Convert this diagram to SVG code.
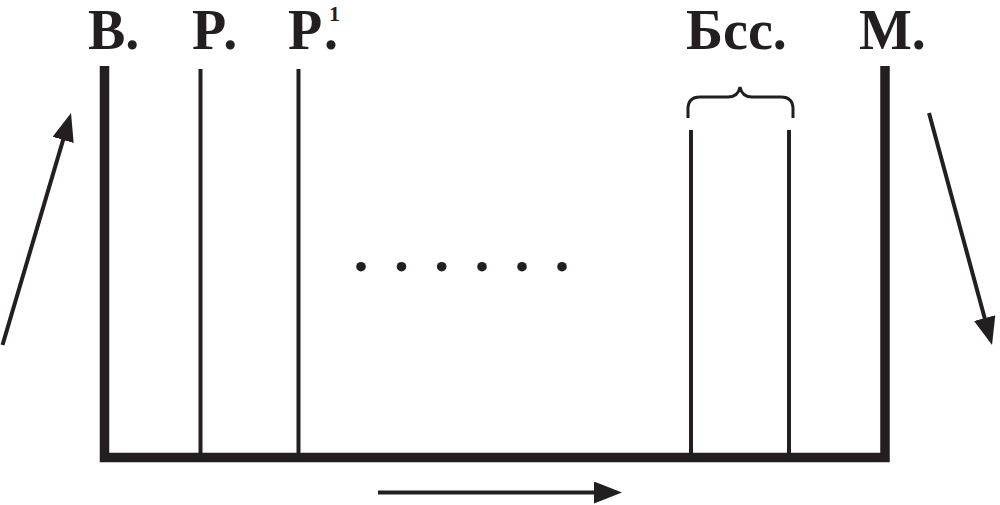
<svg xmlns="http://www.w3.org/2000/svg" width="1000" height="505" viewBox="0 0 1000 505">
<style>
.lbl{font-family:"Liberation Serif","Times New Roman",serif;font-weight:bold;font-size:56px;fill:#231f20}
.sup{font-size:22px}
.thick{stroke:#231f20;stroke-width:9.5;fill:none}
.thin{stroke:#231f20;stroke-width:4;fill:none}
.arr{stroke:#231f20;stroke-width:4;fill:none;marker-end:url(#ah)}
.dot{fill:#231f20}
</style>
<defs>
<marker id="ah" markerUnits="userSpaceOnUse" markerWidth="30" markerHeight="24" refX="18" refY="11" orient="auto">
<path d="M0,0 L28,11 L0,22 Z" fill="#231f20"/>
</marker>
</defs>
<rect width="1000" height="505" fill="#ffffff"/>
<g id="frame">
<path class="thick" d="M104.5,66 V457.5 H885 V66"/>
</g>
<g id="node-V">
<text class="lbl" x="88" y="49">В.</text>
</g>
<g id="node-R">
<line class="thin" x1="200.5" y1="69" x2="200.5" y2="455"/>
<text class="lbl" x="192" y="49">Р<tspan dx="4">.</tspan></text>
</g>
<g id="node-R1">
<line class="thin" x1="298.5" y1="69" x2="298.5" y2="455"/>
<text class="lbl" x="288" y="49">Р<tspan x="324">.</tspan><tspan class="sup" x="329" y="21">1</tspan></text>
</g>
<g id="node-Bss">
<line class="thin" x1="691" y1="130" x2="691" y2="455"/>
<line class="thin" x1="789" y1="130" x2="789" y2="455"/>
<path d="M688,118 V109 Q688,97 700,97 H728 Q738,97 740,87 Q742,97 752,97 H781 Q793,97 793,109 V118" stroke="#231f20" stroke-width="3" fill="none"/>
<text class="lbl" x="686" y="49">Бсс.</text>
</g>
<g id="node-M">
<text class="lbl" x="859" y="49">М.</text>
</g>
<g id="ellipsis">
<circle class="dot" cx="361" cy="266.7" r="4.8"/>
<circle class="dot" cx="401.5" cy="266.7" r="4.8"/>
<circle class="dot" cx="441.7" cy="266.7" r="4.8"/>
<circle class="dot" cx="482" cy="266.7" r="4.8"/>
<circle class="dot" cx="522" cy="266.7" r="4.8"/>
<circle class="dot" cx="562" cy="266.7" r="4.8"/>
</g>
<g id="connectors">
<line class="arr" x1="2.5" y1="345" x2="68.2" y2="122.6"/>
<line class="arr" x1="929" y1="113" x2="989.4" y2="335.4"/>
<line class="arr" x1="378" y1="492.5" x2="612" y2="492.5"/>
</g>
</svg>
